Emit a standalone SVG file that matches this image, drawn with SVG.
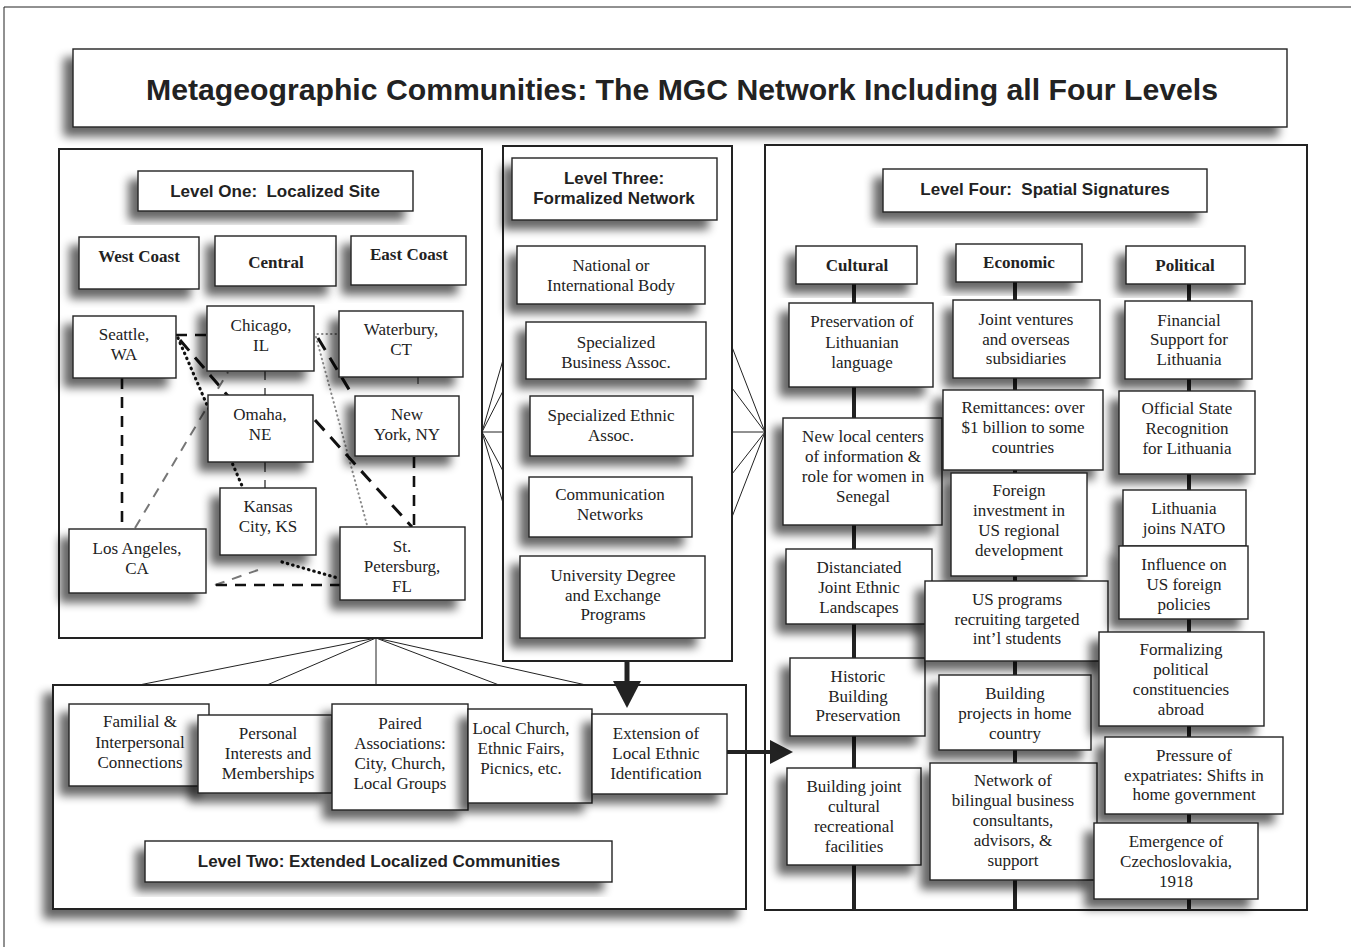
<svg xmlns="http://www.w3.org/2000/svg" width="1351" height="947" viewBox="0 0 1351 947">
  <defs>
    <filter id="sh" x="-25%" y="-25%" width="150%" height="160%">
      <feGaussianBlur in="SourceAlpha" stdDeviation="5"/>
      <feOffset dx="-9" dy="9" result="b"/>
      <feComponentTransfer><feFuncA type="linear" slope="0.6"/></feComponentTransfer>
      <feMerge><feMergeNode/><feMergeNode in="SourceGraphic"/></feMerge>
    </filter>
    <style>
      .box{fill:#fff;stroke:#222;stroke-width:1.4;filter:url(#sh)}
      .panel{fill:#fff;stroke:#222;stroke-width:2}
      .t{font-family:"Liberation Serif","Times New Roman",serif;font-size:17px;fill:#222;text-anchor:middle}
      .cat{font-family:"Liberation Serif","Times New Roman",serif;font-size:17px;font-weight:bold;fill:#222;text-anchor:middle}
      .h{font-family:"Liberation Sans",Arial,sans-serif;font-size:17px;font-weight:bold;fill:#222;text-anchor:middle}
      .title{font-size:30px}
      .thin{stroke:#222;stroke-width:1;fill:none}
      .spine{stroke:#222;stroke-width:4;fill:none}
      .dk{stroke:#111;stroke-width:2.6;stroke-dasharray:11 8;fill:none}
      .dk2{stroke:#111;stroke-width:3;stroke-dasharray:14 9;fill:none}
      .gr{stroke:#777;stroke-width:2;stroke-dasharray:10 8;fill:none}
      .dot{stroke:#111;stroke-width:3.2;stroke-dasharray:0.5 5;stroke-linecap:round;fill:none}
      .gdot{stroke:#888;stroke-width:2;stroke-dasharray:0.5 4;stroke-linecap:round;fill:none}
    </style>
  </defs>

  <rect width="1351" height="947" fill="#fff"/>
  <!-- page frame -->
  <path d="M4,947 V7 H1351" class="thin" stroke-width="1.5"/>

  <!-- title -->
  <g id="title">
    <rect class="box" x="73" y="49" width="1214" height="78"/>
    <text class="h title" x="682" y="100" textLength="1072" lengthAdjust="spacingAndGlyphs">Metageographic Communities: The MGC Network Including all Four Levels</text>
  </g>

  <!-- panels -->
  <g id="panel-level1"><rect class="panel" x="59" y="149" width="423" height="489"/></g>
  <g id="panel-level3"><rect class="panel" x="503" y="146" width="229" height="515"/></g>
  <g id="panel-level4"><rect class="panel" x="765" y="145" width="542" height="765"/></g>
  <g id="panel-level2"><rect class="panel" x="53" y="685" width="693" height="224" style="filter:url(#sh)"/></g>

  <!-- connectors -->
  <g id="connectors">
    <!-- fans between panels -->
    <path class="thin" d="M482,432 L503,360 M482,432 L503,391 M482,432 L503,432 M482,432 L503,471 M482,432 L503,503"/>
    <path class="thin" d="M765,432 L732,347 M765,432 L732,388 M765,432 L732,432 M765,432 L732,474 M765,432 L732,517"/>
    <path class="thin" d="M376,638 L139,685 M376,638 L267,685 M376,638 L376,685 M376,638 L499,685 M376,638 L586,685"/>
    <!-- arrows -->
    <path d="M627,661 V684" stroke="#222" stroke-width="5"/>
    <polygon points="613,681 641,681 627,708" fill="#222"/>
    <path d="M727,752 H772" stroke="#222" stroke-width="4"/>
    <polygon points="770,740 770,764 793,752" fill="#222"/>

    <!-- level one city links -->
    <path class="dk" d="M122,378 V528"/>
    <path class="dk" d="M176,335 H208"/>
    <path class="dot" d="M178,338 L243,488"/>
    <path class="dk2" d="M180,340 L228,396"/>
    <path class="gr" d="M135,528 L228,372"/>
    <path class="gr" d="M215,585 L258,570"/>
    <path class="dk" d="M216,585 H340"/>
    <path class="dot" d="M282,562 L338,578"/>
    <path class="gr" stroke-width="1.5" d="M265,370 V396 M265,462 V488"/>
    <path class="gdot" d="M313,334 H339"/>
    <path class="gdot" d="M316,337 L367,525"/>
    <path class="dk2" d="M318,338 L353,396"/>
    <path class="dk2" d="M315,420 L412,527"/>
    <path class="dk" d="M414,457 V526"/>
    <path class="thin" d="M418,377 V384"/>

    <!-- level four spines -->
    <path class="spine" d="M854,284 V910 M1015,282 V910 M1189,284 V910"/>
  </g>

  <!-- Level One -->
  <g id="l1-header"><rect class="box" x="138" y="171" width="275" height="40"/><text class="h" x="275" y="197">Level One:&#160; Localized Site</text></g>
  <g id="l1-west"><rect class="box" x="79" y="237" width="120" height="52"/><text class="cat" x="139" y="262">West Coast</text></g>
  <g id="l1-central"><rect class="box" x="215" y="236" width="121" height="50"/><text class="cat" x="276" y="268">Central</text></g>
  <g id="l1-east"><rect class="box" x="351" y="236" width="115" height="49"/><text class="cat" x="409" y="260">East Coast</text></g>
  <g id="l1-seattle"><rect class="box" x="73" y="316" width="103" height="62"/><text class="t" x="124" y="340">Seattle,</text><text class="t" x="124" y="360">WA</text></g>
  <g id="l1-chicago"><rect class="box" x="207" y="306" width="107" height="65"/><text class="t" x="261" y="331">Chicago,</text><text class="t" x="261" y="351">IL</text></g>
  <g id="l1-waterbury"><rect class="box" x="339" y="311" width="124" height="66"/><text class="t" x="401" y="335">Waterbury,</text><text class="t" x="401" y="355">CT</text></g>
  <g id="l1-omaha"><rect class="box" x="208" y="395" width="105" height="67"/><text class="t" x="260" y="420">Omaha,</text><text class="t" x="260" y="440">NE</text></g>
  <g id="l1-newyork"><rect class="box" x="355" y="396" width="104" height="60"/><text class="t" x="407" y="420">New</text><text class="t" x="407" y="440">York, NY</text></g>
  <g id="l1-kansas"><rect class="box" x="220" y="488" width="96" height="67"/><text class="t" x="268" y="512">Kansas</text><text class="t" x="268" y="532">City, KS</text></g>
  <g id="l1-la"><rect class="box" x="69" y="529" width="137" height="64"/><text class="t" x="137" y="554">Los Angeles,</text><text class="t" x="137" y="574">CA</text></g>
  <g id="l1-stpete"><rect class="box" x="340" y="527" width="125" height="73"/><text class="t" x="402" y="552">St.</text><text class="t" x="402" y="572">Petersburg,</text><text class="t" x="402" y="592">FL</text></g>

  <!-- Level Three -->
  <g id="l3-header"><rect class="box" x="512" y="158" width="205" height="62"/><text class="h" x="614" y="184">Level Three:</text><text class="h" x="614" y="204">Formalized Network</text></g>
  <g id="l3-national"><rect class="box" x="517" y="246" width="188" height="58"/><text class="t" x="611" y="271">National or</text><text class="t" x="611" y="291">International Body</text></g>
  <g id="l3-business"><rect class="box" x="526" y="322" width="180" height="57"/><text class="t" x="616" y="348">Specialized</text><text class="t" x="616" y="368">Business Assoc.</text></g>
  <g id="l3-ethnic"><rect class="box" x="530" y="396" width="163" height="60"/><text class="t" x="611" y="421">Specialized Ethnic</text><text class="t" x="611" y="441">Assoc.</text></g>
  <g id="l3-comm"><rect class="box" x="529" y="477" width="163" height="60"/><text class="t" x="610" y="500">Communication</text><text class="t" x="610" y="520">Networks</text></g>
  <g id="l3-univ"><rect class="box" x="520" y="556" width="185" height="82"/><text class="t" x="613" y="581">University Degree</text><text class="t" x="613" y="601">and Exchange</text><text class="t" x="613" y="620">Programs</text></g>

  <!-- Level Two -->
  <g id="l2-familial"><rect class="box" x="69" y="704" width="140" height="82"/><text class="t" x="140" y="727">Familial &amp;</text><text class="t" x="140" y="748">Interpersonal</text><text class="t" x="140" y="768">Connections</text></g>
  <g id="l2-personal"><rect class="box" x="198" y="715" width="134" height="78"/><text class="t" x="268" y="739">Personal</text><text class="t" x="268" y="759">Interests and</text><text class="t" x="268" y="779">Memberships</text></g>
  <g id="l2-paired"><rect class="box" x="332" y="704" width="136" height="106"/><text class="t" x="400" y="729">Paired</text><text class="t" x="400" y="749">Associations:</text><text class="t" x="400" y="769">City, Church,</text><text class="t" x="400" y="789">Local Groups</text></g>
  <g id="l2-church"><rect class="box" x="468" y="709" width="124" height="94"/><text class="t" x="521" y="734">Local Church,</text><text class="t" x="521" y="754">Ethnic Fairs,</text><text class="t" x="521" y="774">Picnics, etc.</text></g>
  <g id="l2-extension"><rect class="box" x="592" y="714" width="135" height="80"/><text class="t" x="656" y="739">Extension of</text><text class="t" x="656" y="759">Local Ethnic</text><text class="t" x="656" y="779">Identification</text></g>
  <g id="l2-header"><rect class="box" x="145" y="841" width="467" height="41"/><text class="h" x="379" y="867">Level Two: Extended Localized Communities</text></g>

  <!-- Level Four -->
  <g id="l4-header"><rect class="box" x="883" y="169" width="324" height="43"/><text class="h" x="1045" y="195">Level Four:&#160; Spatial Signatures</text></g>
  <g id="l4-cultural"><rect class="box" x="796" y="246" width="121" height="38"/><text class="cat" x="857" y="271">Cultural</text></g>
  <g id="l4-economic"><rect class="box" x="956" y="244" width="126" height="38"/><text class="cat" x="1019" y="268">Economic</text></g>
  <g id="l4-political"><rect class="box" x="1126" y="246" width="119" height="38"/><text class="cat" x="1185" y="271">Political</text></g>

  <g id="c1"><rect class="box" x="789" y="303" width="144" height="84"/><text class="t" x="862" y="327">Preservation of</text><text class="t" x="862" y="348">Lithuanian</text><text class="t" x="862" y="368">language</text></g>
  <g id="c2"><rect class="box" x="783" y="418" width="159" height="107"/><text class="t" x="863" y="442">New local centers</text><text class="t" x="863" y="462">of information &amp;</text><text class="t" x="863" y="482">role for women in</text><text class="t" x="863" y="502">Senegal</text></g>
  <g id="c3"><rect class="box" x="786" y="549" width="146" height="75"/><text class="t" x="859" y="573">Distanciated</text><text class="t" x="859" y="593">Joint Ethnic</text><text class="t" x="859" y="613">Landscapes</text></g>
  <g id="c4"><rect class="box" x="790" y="658" width="135" height="78"/><text class="t" x="858" y="682">Historic</text><text class="t" x="858" y="702">Building</text><text class="t" x="858" y="721">Preservation</text></g>
  <g id="c5"><rect class="box" x="787" y="768" width="134" height="97"/><text class="t" x="854" y="792">Building joint</text><text class="t" x="854" y="812">cultural</text><text class="t" x="854" y="832">recreational</text><text class="t" x="854" y="852">facilities</text></g>

  <g id="e1"><rect class="box" x="953" y="300" width="147" height="78"/><text class="t" x="1026" y="325">Joint ventures</text><text class="t" x="1026" y="345">and overseas</text><text class="t" x="1026" y="364">subsidiaries</text></g>
  <g id="e2"><rect class="box" x="943" y="390" width="160" height="80"/><text class="t" x="1023" y="413">Remittances: over</text><text class="t" x="1023" y="433">$1 billion to some</text><text class="t" x="1023" y="453">countries</text></g>
  <g id="e3"><rect class="box" x="951" y="473" width="136" height="103"/><text class="t" x="1019" y="496">Foreign</text><text class="t" x="1019" y="516">investment in</text><text class="t" x="1019" y="536">US regional</text><text class="t" x="1019" y="556">development</text></g>
  <g id="e4"><rect class="box" x="925" y="581" width="183" height="80"/><text class="t" x="1017" y="605">US programs</text><text class="t" x="1017" y="625">recruiting targeted</text><text class="t" x="1017" y="644">int’l students</text></g>
  <g id="e5"><rect class="box" x="939" y="675" width="152" height="75"/><text class="t" x="1015" y="699">Building</text><text class="t" x="1015" y="719">projects in home</text><text class="t" x="1015" y="739">country</text></g>
  <g id="e6"><rect class="box" x="930" y="763" width="167" height="117"/><text class="t" x="1013" y="786">Network of</text><text class="t" x="1013" y="806">bilingual business</text><text class="t" x="1013" y="826">consultants,</text><text class="t" x="1013" y="846">advisors, &amp;</text><text class="t" x="1013" y="866">support</text></g>

  <g id="p1"><rect class="box" x="1125" y="301" width="127" height="78"/><text class="t" x="1189" y="326">Financial</text><text class="t" x="1189" y="345">Support for</text><text class="t" x="1189" y="365">Lithuania</text></g>
  <g id="p2"><rect class="box" x="1119" y="391" width="136" height="83"/><text class="t" x="1187" y="414">Official State</text><text class="t" x="1187" y="434">Recognition</text><text class="t" x="1187" y="454">for Lithuania</text></g>
  <g id="p3"><rect class="box" x="1123" y="490" width="123" height="56"/><text class="t" x="1184" y="514">Lithuania</text><text class="t" x="1184" y="534">joins NATO</text></g>
  <g id="p4"><rect class="box" x="1119" y="546" width="129" height="73"/><text class="t" x="1184" y="570">Influence on</text><text class="t" x="1184" y="590">US foreign</text><text class="t" x="1184" y="610">policies</text></g>
  <g id="p5"><rect class="box" x="1099" y="632" width="165" height="94"/><text class="t" x="1181" y="655">Formalizing</text><text class="t" x="1181" y="675">political</text><text class="t" x="1181" y="695">constituencies</text><text class="t" x="1181" y="715">abroad</text></g>
  <g id="p6"><rect class="box" x="1105" y="737" width="178" height="77"/><text class="t" x="1194" y="761">Pressure of</text><text class="t" x="1194" y="781">expatriates: Shifts in</text><text class="t" x="1194" y="800">home government</text></g>
  <g id="p7"><rect class="box" x="1094" y="823" width="164" height="76"/><text class="t" x="1176" y="847">Emergence of</text><text class="t" x="1176" y="867">Czechoslovakia,</text><text class="t" x="1176" y="887">1918</text></g>
</svg>
